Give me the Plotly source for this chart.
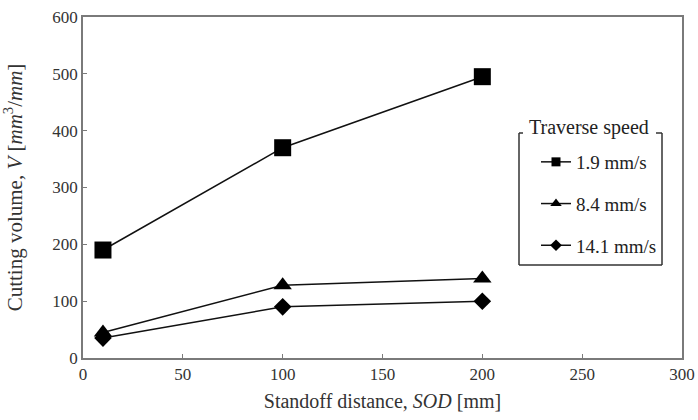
import plotly.graph_objects as go

sod = [10, 100, 200]
v_19 = [190, 370, 495]
v_84 = [45, 128, 140]
v_141 = [35, 90, 100]
series_names = ["1.9 mm/s", "8.4 mm/s", "14.1 mm/s"]
x_ticks = [0, 50, 100, 150, 200, 250, 300]
y_ticks = [0, 100, 200, 300, 400, 500, 600]

W, H = 698, 420
ML, MR, MT, MB = 83, 16, 17, 62
PW, PH = W - ML - MR, H - MT - MB

def px(x):
    return (x - ML) / PW

def py(y):
    return (H - MB - y) / PH

font = "Liberation Serif"
fig = go.Figure()

styles = [
    (v_19, "square", 17, 9),
    (v_84, "triangle-up", 16, 10),
    (v_141, "diamond", 13.5, 9),
]
for i, (vals, sym, size, lsize) in enumerate(styles):
    fig.add_trace(go.Scatter(
        x=sod, y=vals, mode="lines+markers", showlegend=False,
        line=dict(color="#111", width=1.5),
        marker=dict(symbol=sym, size=size, color="black"),
        name=series_names[i]))
    fig.add_trace(go.Scatter(
        x=[None], y=[None], mode="lines+markers", name=series_names[i],
        legendgroup=str(i),
        line=dict(color="#111", width=1.5),
        marker=dict(symbol=sym, size=lsize, color="black")))

axis_common = dict(
    showgrid=False, zeroline=False, showline=True, mirror=True,
    linecolor="#7a7a7a", linewidth=1.5, ticks="inside", ticklen=4,
    tickcolor="#7a7a7a", tickwidth=1.2, automargin=False,
    tickfont=dict(family=font, size=17, color="#333"),
)

fig.update_xaxes(range=[0, 300], tickvals=x_ticks, **axis_common,
                 title=dict(text="Standoff distance, <i>SOD</i> [mm]",
                            font=dict(family=font, size=20, color="#333"),
                            standoff=11))
fig.update_yaxes(range=[0, 600], tickvals=y_ticks, **axis_common,
                 title=dict(text="Cutting volume, <i>V</i> [<i>mm</i><sup>3</sup>/<i>mm</i>]",
                            font=dict(family=font, size=21, color="#333"),
                            standoff=24))

box_col = "#333"
x0, x1 = px(519), px(662)
y0, y1 = py(265), py(133)
shapes = [
    dict(type="line", xref="paper", yref="paper", x0=x0, x1=x0, y0=y0, y1=y1),
    dict(type="line", xref="paper", yref="paper", x0=x0, x1=x1, y0=y0, y1=y0),
    dict(type="line", xref="paper", yref="paper", x0=x1, x1=x1, y0=y0, y1=y1),
    dict(type="line", xref="paper", yref="paper", x0=x0, x1=px(523), y0=y1, y1=y1),
    dict(type="line", xref="paper", yref="paper", x0=px(656), x1=x1, y0=y1, y1=y1),
]
for s in shapes:
    s["line"] = dict(color=box_col, width=1.5)

fig.update_layout(
    width=W, height=H,
    margin=dict(l=ML, r=MR, t=MT, b=MB),
    paper_bgcolor="white", plot_bgcolor="white",
    shapes=shapes,
    annotations=[dict(text="Traverse speed", xref="paper", yref="paper",
                      x=px(589), y=py(127), xanchor="center", yanchor="middle",
                      showarrow=False,
                      font=dict(family=font, size=20, color="#222"))],
    legend=dict(x=px(536), y=py(143), xanchor="left", yanchor="top",
                bgcolor="rgba(0,0,0,0)", traceorder="grouped",
                tracegroupgap=14,
                font=dict(family=font, size=19, color="#222")),
    showlegend=True,
)

fig.write_html("out.html")
